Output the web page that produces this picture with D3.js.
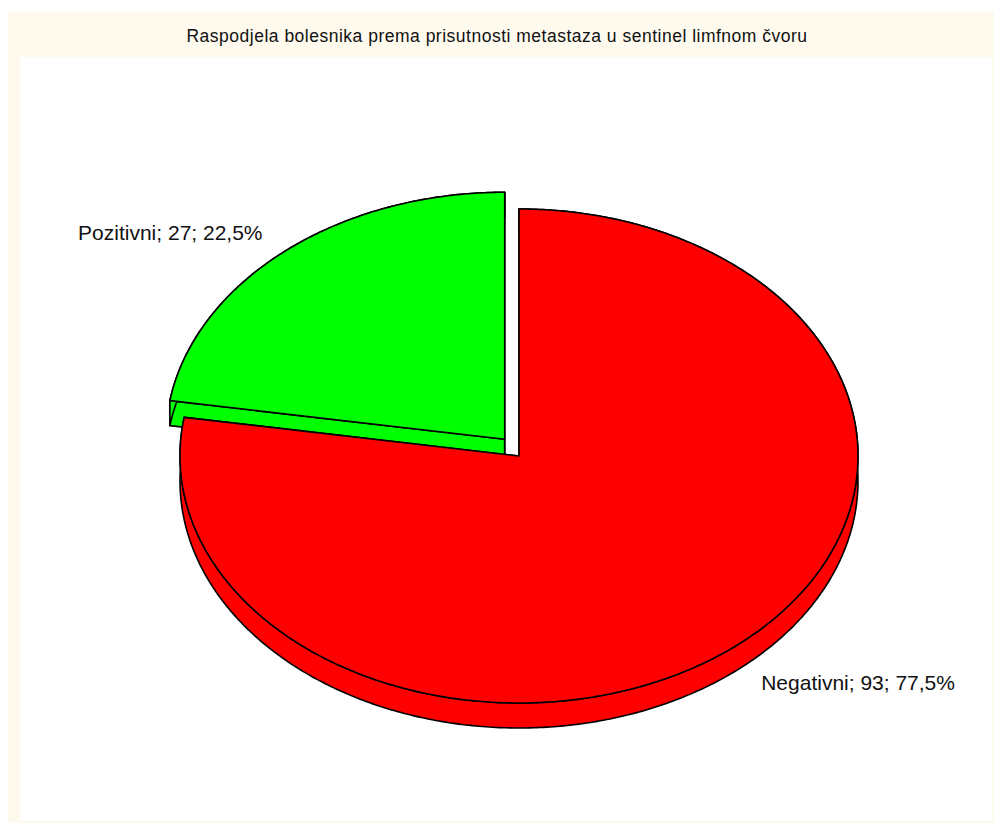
<!DOCTYPE html>
<html>
<head>
<meta charset="utf-8">
<script src="https://cdn.jsdelivr.net/npm/d3@7.9.0/dist/d3.min.js"></script>
<style>
  body { margin: 0; background: #fff; }
  svg { display: block; font-family: Arial, "Liberation Sans", sans-serif; }
</style>
</head>
<body>
<svg id="chart" width="995" height="823"></svg>
<script>
const title = "Raspodjela bolesnika prema prisutnosti metastaza u sentinel limfnom čvoru";
const categories = ["Negativni", "Pozitivni"];
const counts = [93, 27];
const percents = ["77,5%", "22,5%"];
const colors = ["#ff0000", "#00ff00"];
const exploded = [false, true];

const svg = d3.select("#chart");

// frame + plot area
svg.append("rect").attr("x", 8).attr("y", 12).attr("width", 986).attr("height", 811).attr("fill", "#fffaee");
svg.append("rect").attr("x", 20).attr("y", 57).attr("width", 972).attr("height", 764).attr("fill", "#ffffff");

svg.append("text")
    .attr("x", 497).attr("y", 42)
    .attr("text-anchor", "middle")
    .attr("font-size", 17.5)
    .attr("letter-spacing", 0.5)
    .attr("fill", "#111")
    .text(title);

const cx = 519, cy = 456, rx = 339, ry = 247, depth = 25, explode = 22;

const data = categories.map((c, i) => ({ label: c, value: counts[i], pct: percents[i], color: colors[i], exploded: exploded[i] }));
const arcs = d3.pie().sort(null).value(d => d.value)(data);

function pt(a, ox, oy, dz) {
    return [ox + rx * Math.sin(a), oy - ry * Math.cos(a) + dz];
}

function arcPoints(a0, a1, ox, oy, dz) {
    const n = Math.max(2, Math.ceil(Math.abs(a1 - a0) / 0.01));
    return d3.range(n + 1).map(i => pt(a0 + (a1 - a0) * i / n, ox, oy, dz));
}

const line = d3.line();
const g = svg.append("g")
    .attr("stroke", "#000")
    .attr("stroke-width", 1.6)
    .attr("stroke-linejoin", "round");

// draw exploded slices first (they sit behind)
const order = arcs.slice().sort((a, b) => (b.data.exploded ? 1 : 0) - (a.data.exploded ? 1 : 0));

order.forEach(d => {
    const mid = (d.startAngle + d.endAngle) / 2;
    const ox = cx + (d.data.exploded ? explode * Math.sin(mid) : 0);
    const oy = cy - (d.data.exploded ? explode * Math.cos(mid) : 0);
    const col = d.data.color;

    // cut faces
    [d.startAngle, d.endAngle].forEach(a => {
        const p = pt(a, ox, oy, 0);
        const face = [[ox, oy], p, [p[0], p[1] + depth], [ox, oy + depth]];
        g.append("path").attr("d", line(face) + "Z").attr("fill", col);
    });

    // outer wall
    const top = arcPoints(d.startAngle, d.endAngle, ox, oy, 0);
    const bot = arcPoints(d.endAngle, d.startAngle, ox, oy, depth);
    g.append("path").attr("d", line(top.concat(bot)) + "Z").attr("fill", col);

    // top face
    g.append("path").attr("d", line([[ox, oy]].concat(top)) + "Z").attr("fill", col);
});

// labels
arcs.forEach(d => {
    const mid = (d.startAngle + d.endAngle) / 2;
    const ox = cx + (d.data.exploded ? explode * Math.sin(mid) : 0);
    const oy = cy - (d.data.exploded ? explode * Math.cos(mid) : 0);
    const lx = ox + rx * 1.1 * Math.sin(mid);
    let ly = oy - ry * 1.1 * Math.cos(mid);
    if (Math.cos(mid) < 0) ly += depth - 5;
    svg.append("text")
        .attr("x", lx).attr("y", ly)
        .attr("dy", "0.35em")
        .attr("text-anchor", Math.sin(mid) < 0 ? "end" : "start")
        .attr("font-size", 21)
        .attr("fill", "#111")
        .text(`${d.data.label}; ${d.data.value}; ${d.data.pct}`);
});
</script>
</body>
</html>
